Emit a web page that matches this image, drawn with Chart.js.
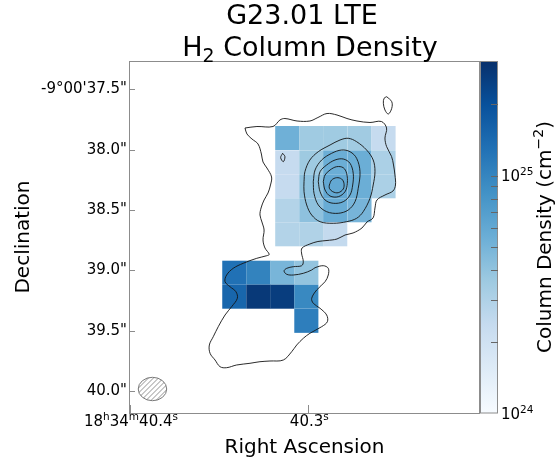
<!DOCTYPE html>
<html>
<head>
<meta charset="utf-8">
<script src="https://cdn.jsdelivr.net/npm/chart.js@4.4.0/dist/chart.umd.min.js"></script>
<style>
  html, body { margin: 0; padding: 0; background: #fff; }
</style>
</head>
<body>
<canvas id="mapa" width="555" height="466"></canvas>
<script>
// RA in seconds of time (18h34m...), Dec in arcsec below -9°00'

// H2 column density (cm^-2), northern patch: rows go south, columns go west
const upperRA = [40.3118, 40.2983, 40.2849, 40.2713, 40.2578];
const upperDec = [37.9034, 38.1048, 38.3036, 38.5024, 38.7013];
const upperDensity = [
  [5.34e24, 3.54e24, 3.54e24, 3.50e24, 2.35e24],
  [2.35e24, 3.60e24, 5.51e24, 5.51e24, 3.13e24],
  [2.35e24, 4.07e24, 6.00e24, 5.51e24, 3.13e24],
  [2.87e24, 4.10e24, 5.70e24, 5.00e24, null],
  [2.87e24, 2.97e24, 2.40e24, null, null]
];

// southern patch
const lowerRA = [40.3415, 40.3280, 40.3146, 40.3011];
const lowerDec = [39.0194, 39.2183, 39.4183];
const lowerDensity = [
  [13.0e24, 10.3e24, 4.96e24, 3.95e24],
  [15.0e24, 27.1e24, 25.7e24, 9.50e24],
  [null, null, null, 10.95e24]
];

// continuum contours [RA s, Dec "]
const outerContour = [
  [40.3355,37.8206],[40.3288,37.8082],[40.3198,37.8082],[40.3159,37.7543],[40.3131,37.7419],
  [40.3063,37.7626],[40.2991,37.7626],[40.2946,37.7336],[40.2895,37.7005],[40.2839,37.7129],
  [40.2783,37.7419],[40.2727,37.7626],[40.2654,37.7750],[40.2590,37.7667],[40.2561,37.8206],
  [40.2570,37.9034],[40.2561,37.9739],[40.2533,38.0567],[40.2522,38.1271],[40.2514,38.2100],
  [40.2511,38.2928],[40.2525,38.3425],[40.2570,38.3757],[40.2615,38.4171],[40.2626,38.4834],
  [40.2637,38.5662],[40.2671,38.5994],[40.2699,38.6491],[40.2749,38.6905],[40.2794,38.7071],
  [40.2839,38.7402],[40.2895,38.7526],[40.2946,38.7609],[40.2991,38.7816],[40.3035,38.8148],
  [40.3038,38.8562],[40.3028,38.9283],[40.3037,38.9614],[40.3084,38.9697],[40.3121,38.9830],
  [40.3136,39.0053],[40.3121,39.0327],[40.3084,39.0385],[40.3028,39.0244],[40.2981,38.9971],
  [40.2962,38.9780],[40.2916,38.9614],[40.2888,38.9830],[40.2888,39.0385],[40.2906,39.0940],
  [40.2953,39.1628],[40.2981,39.2315],[40.2972,39.2729],[40.2934,39.3144],[40.2897,39.3699],
  [40.2893,39.4254],[40.2925,39.4668],[40.2991,39.5215],[40.3028,39.5629],[40.3065,39.6184],
  [40.3093,39.6739],[40.3140,39.7427],[40.3215,39.7510],[40.3271,39.7568],[40.3327,39.7700],
  [40.3402,39.7841],[40.3458,39.8065],[40.3495,39.7982],[40.3523,39.7427],[40.3551,39.6872],
  [40.3555,39.6184],[40.3533,39.5497],[40.3505,39.4668],[40.3467,39.3699],[40.3430,39.3011],
  [40.3398,39.2315],[40.3406,39.1768],[40.3439,39.1354],[40.3467,39.0940],[40.3458,39.0385],
  [40.3421,38.9830],[40.3365,38.9415],[40.3289,38.9001],[40.3233,38.8786],[40.3219,38.8670],
  [40.3243,38.8148],[40.3254,38.7485],[40.3248,38.6657],[40.3260,38.5994],[40.3271,38.5414],
  [40.3265,38.4834],[40.3248,38.4171],[40.3226,38.3591],[40.3212,38.2928],[40.3206,38.2265],
  [40.3232,38.1520],[40.3254,38.1023],[40.3263,38.0360],[40.3282,37.9531],[40.3316,37.9117],
  [40.3344,37.8703]
];
const islandNE = [[40.2560,37.5613],[40.2532,37.6027],[40.2532,37.6574],[40.2551,37.7046],[40.2570,37.6715],[40.2579,37.6159],[40.2575,37.5745]];
const islandW = [[40.3144,38.0302],[40.3131,38.0584],[40.3140,38.0998],[40.3155,38.0666]];
const ring2 = [
  [40.3024,38.2655],[40.3019,38.1826],[40.2991,38.0857],[40.2944,38.0169],[40.2878,37.9614],
  [40.2822,37.9200],[40.2776,37.9059],[40.2729,37.9341],[40.2673,38.0029],[40.2636,38.0857],
  [40.2626,38.1826],[40.2636,38.2928],[40.2654,38.4030],[40.2692,38.5140],[40.2729,38.5687],
  [40.2785,38.5969],[40.2860,38.6101],[40.2934,38.5969],[40.2981,38.5414],[40.3009,38.4585],
  [40.3024,38.3483]
];
const ring3 = [
  [40.2972,38.2655],[40.2962,38.1686],[40.2925,38.0857],[40.2869,38.0302],[40.2813,38.0029],
  [40.2766,38.0169],[40.2729,38.0716],[40.2710,38.1826],[40.2720,38.3202],[40.2738,38.4312],
  [40.2776,38.5000],[40.2832,38.5273],[40.2897,38.5140],[40.2944,38.4585],[40.2968,38.3616]
];
const ring4 = [
  [40.2944,38.2655],[40.2934,38.1826],[40.2897,38.1271],[40.2850,38.0857],[40.2804,38.0774],
  [40.2766,38.1130],[40.2748,38.1959],[40.2751,38.2928],[40.2766,38.3757],[40.2804,38.4312],
  [40.2860,38.4444],[40.2906,38.4171],[40.2934,38.3483]
];
const ring5 = [
  [40.2916,38.2655],[40.2906,38.2100],[40.2878,38.1686],[40.2841,38.1412],[40.2804,38.1495],
  [40.2785,38.1959],[40.2781,38.2787],[40.2794,38.3483],[40.2832,38.3898],[40.2878,38.3840],
  [40.2906,38.3343]
];
const ring6 = [
  [40.2882,38.2928],[40.2869,38.2514],[40.2841,38.2323],[40.2813,38.2431],[40.2800,38.2787],
  [40.2804,38.3260],[40.2832,38.3566],[40.2863,38.3483],[40.2882,38.3202]
];

// axis ticks ('^' raises the next char or {group}, '_' lowers it)
const raTicks = [40.4, 40.3];
const raTickLabels = ['18^h34^m40.4^s', '40.3^s'];
const decTicks = [37.5, 38.0, 38.5, 39.0, 39.5, 40.0];
const decTickLabels = ['-9°00\'37.5"', '38.0"', '38.5"', '39.0"', '39.5"', '40.0"'];
const cbTicks = [2e24, 3e24, 4e24, 5e24, 6e24, 7e24, 8e24, 9e24, 1e25, 2e25];
const cbLabelValues = [1e24, 1e25];
const cbLabels = ['10^{24}', '10^{25}'];

// colour limits, pixel size and beam
const vMin = 1e24, vMax = 3.04e25;
const pixRA = 0.01352, pixDec = 0.1988;
const beamRA = 40.3874, beamDec = 39.9830, beamMajor = 0.236, beamMinor = 0.194;

// matplotlib "Blues"
const bluesStops = ['#f7fbff', '#deebf7', '#c6dbef', '#9ecae1', '#6baed6', '#4292c6', '#2171b5', '#08519c', '#08306b'];
const bluesRGB = bluesStops.map(h => [1, 3, 5].map(i => parseInt(h.slice(i, i + 2), 16)));

const blues = (t) => {
  t = Math.min(1, Math.max(0, t)) * 8;
  const i = Math.min(7, Math.floor(t)), f = t - i;
  const a = bluesRGB[i], b = bluesRGB[i + 1];
  const c = a.map((v, k) => Math.round(v + (b[k] - v) * f));
  return `rgb(${c[0]},${c[1]},${c[2]})`;
};
const colorFor = v => blues((Math.log10(v) - Math.log10(vMin)) / (Math.log10(vMax) - Math.log10(vMin)));

const FONT = "'DejaVu Sans', sans-serif";
const FRAME = '#8c8c8c';

// split "10^{24}" / "H_2" style strings into normal, raised and lowered runs
const richParts = (s) => {
  const parts = [];
  const re = /([\^_])(?:\{([^}]*)\}|(.))/g;
  let last = 0, m;
  while ((m = re.exec(s))) {
    if (m.index > last) parts.push({ t: s.slice(last, m.index), k: 0 });
    parts.push({ t: m[2] !== undefined ? m[2] : m[3], k: m[1] === '^' ? 1 : -1 });
    last = re.lastIndex;
  }
  if (last < s.length) parts.push({ t: s.slice(last), k: 0 });
  return parts;
};

const drawRich = (ctx, s, x, y, size, align) => {
  const parts = richParts(s);
  const fontOf = k => `${k ? size * 0.7 : size}px ${FONT}`;
  let w = 0;
  parts.forEach(p => { ctx.font = fontOf(p.k); p.w = ctx.measureText(p.t).width; w += p.w; });
  let cx = align === 'center' ? x - w / 2 : align === 'right' ? x - w : x;
  ctx.textAlign = 'left';
  ctx.textBaseline = 'alphabetic';
  parts.forEach(p => {
    ctx.font = fontOf(p.k);
    const dy = p.k === 1 ? -size * 0.4 : p.k === -1 ? size * 0.22 : 0;
    ctx.fillText(p.t, cx, y + dy);
    cx += p.w;
  });
};

// column density pixels under the contours
const pixelsPlugin = {
  id: 'pixels',
  beforeDatasetsDraw(chart) {
    const { ctx, scales: { x, y } } = chart;
    const blocks = [
      { ra: upperRA, dec: upperDec, vals: upperDensity },
      { ra: lowerRA, dec: lowerDec, vals: lowerDensity }
    ];
    ctx.save();
    blocks.forEach(b => {
      b.vals.forEach((row, j) => row.forEach((v, i) => {
        if (v == null) return;
        const x0 = x.getPixelForValue(b.ra[i] + pixRA / 2);
        const x1 = x.getPixelForValue(b.ra[i] - pixRA / 2);
        const y0 = y.getPixelForValue(b.dec[j] - pixDec / 2);
        const y1 = y.getPixelForValue(b.dec[j] + pixDec / 2);
        ctx.fillStyle = colorFor(v);
        ctx.fillRect(x0, y0, x1 - x0, y1 - y0);
      }));
    });
    ctx.restore();
  }
};

// frame, inward ticks, beam, colourbar, titles
const decorPlugin = {
  id: 'decor',
  afterDatasetsDraw(chart) {
    const { ctx, chartArea: a, scales: { x, y, cb } } = chart;
    ctx.save();

    // beam ellipse with hatching
    const ppa = Math.abs(y.getPixelForValue(1) - y.getPixelForValue(0));
    const bx = x.getPixelForValue(beamRA), by = y.getPixelForValue(beamDec);
    const rx = beamMajor / 2 * ppa, ry = beamMinor / 2 * ppa;
    ctx.save();
    ctx.beginPath();
    ctx.ellipse(bx, by, rx, ry, 0, 0, Math.PI * 2);
    ctx.clip();
    ctx.strokeStyle = '#777';
    ctx.lineWidth = 0.8;
    for (let d = -40; d <= 40; d += 5) {
      ctx.beginPath();
      ctx.moveTo(bx + d - 20, by + 20);
      ctx.lineTo(bx + d + 20, by - 20);
      ctx.stroke();
    }
    ctx.restore();
    ctx.beginPath();
    ctx.ellipse(bx, by, rx, ry, 0, 0, Math.PI * 2);
    ctx.strokeStyle = '#777';
    ctx.lineWidth = 1;
    ctx.stroke();

    // axes frame and ticks pointing inward
    ctx.strokeStyle = FRAME;
    ctx.lineWidth = 1;
    ctx.strokeRect(a.left + 0.5, a.top + 0.5, a.right - a.left - 1, a.bottom - a.top);
    ctx.beginPath();
    decTicks.forEach(v => {
      const py = Math.round(y.getPixelForValue(v)) + 0.5;
      ctx.moveTo(a.left, py); ctx.lineTo(a.left + 6, py);
    });
    raTicks.forEach(v => {
      const px = Math.round(x.getPixelForValue(v)) + 0.5;
      ctx.moveTo(px, a.bottom); ctx.lineTo(px, a.bottom - 8);
    });
    ctx.stroke();

    // RA tick labels with raised h/m/s
    ctx.fillStyle = '#000';
    raTicks.forEach((v, i) => drawRich(ctx, raTickLabels[i], x.getPixelForValue(v) + 1, a.bottom + 13, 15, 'center'));

    // colourbar
    const cbL = a.right, cbW = 18;
    const cbTop = cb.getPixelForValue(vMax), cbBot = cb.getPixelForValue(vMin);
    const grad = ctx.createLinearGradient(0, cbBot, 0, cbTop);
    bluesStops.forEach((c, i) => grad.addColorStop(i / 8, c));
    ctx.fillStyle = grad;
    ctx.fillRect(cbL, cbTop, cbW, cbBot - cbTop);
    ctx.strokeStyle = FRAME;
    ctx.strokeRect(cbL + 0.5, cbTop + 0.5, cbW - 1, cbBot - cbTop - 0.5);
    ctx.strokeStyle = '#666';
    ctx.beginPath();
    cbTicks.forEach(v => {
      const py = Math.round(cb.getPixelForValue(v)) + 0.5;
      ctx.moveTo(cbL + cbW - 7, py); ctx.lineTo(cbL + cbW, py);
    });
    ctx.stroke();
    ctx.fillStyle = '#000';
    cbLabelValues.forEach((v, i) => drawRich(ctx, cbLabels[i], cbL + cbW + 3, cb.getPixelForValue(v) + 5.5, 15, 'left'));

    ctx.save();
    ctx.translate(551, (a.top + a.bottom) / 2);
    ctx.rotate(-Math.PI / 2);
    drawRich(ctx, 'Column Density (cm^{−2})', 0, 0, 20, 'center');
    ctx.restore();

    // title
    drawRich(ctx, 'G23.01 LTE', 302, 24, 27, 'center');
    drawRich(ctx, 'H_2 Column Density', 310, 56, 27, 'center');

    ctx.restore();
  }
};

const closeLoop = pts => pts.concat([pts[0]]).map(([ra, dec]) => ({ x: ra, y: dec }));

const contourSets = [outerContour, islandNE, islandW, ring2, ring3, ring4, ring5, ring6].map(c => ({
  data: closeLoop(c),
  showLine: true,
  borderColor: 'rgba(20,20,20,0.9)',
  borderWidth: 1,
  pointRadius: 0,
  tension: 0.35,
  fill: false
}));

Chart.defaults.font.family = FONT;
Chart.defaults.color = '#000';

new Chart(document.getElementById('mapa'), {
  type: 'scatter',
  data: { datasets: contourSets },
  options: {
    responsive: false,
    animation: false,
    layout: { padding: { top: 61, right: 75, bottom: 0, left: 0 } },
    plugins: {
      legend: { display: false },
      tooltip: { enabled: false },
      title: { display: false }
    },
    scales: {
      x: {
        type: 'linear',
        reverse: true,
        bounds: 'data',
        min: 40.2037,
        max: 40.40056,
        grid: { display: false, drawTicks: false },
        border: { display: false },
        afterBuildTicks: s => { s.ticks = raTicks.map(v => ({ value: v })); },
        afterFit: s => { s.height = 53; },
        ticks: { display: false },
        title: {
          display: true,
          text: 'Right Ascension',
          font: { size: 20 },
          padding: { top: 0, bottom: 6 }
        }
      },
      y: {
        type: 'linear',
        reverse: true,
        bounds: 'data',
        min: 37.2655,
        max: 40.1818,
        grid: { display: false, drawTicks: false },
        border: { display: false },
        afterBuildTicks: s => { s.ticks = decTicks.map(v => ({ value: v })); },
        afterFit: s => { s.width = 129; },
        ticks: {
          autoSkip: false,
          padding: 2,
          font: { size: 15 },
          callback: (v, i) => decTickLabels[i]
        },
        title: {
          display: true,
          text: 'Declination',
          font: { size: 20 },
          padding: { top: 12, bottom: 0 }
        }
      },
      cb: {
        type: 'logarithmic',
        position: 'right',
        display: false,
        bounds: 'data',
        min: vMin,
        max: vMax
      }
    }
  },
  plugins: [pixelsPlugin, decorPlugin]
});
</script>
</body>
</html>
